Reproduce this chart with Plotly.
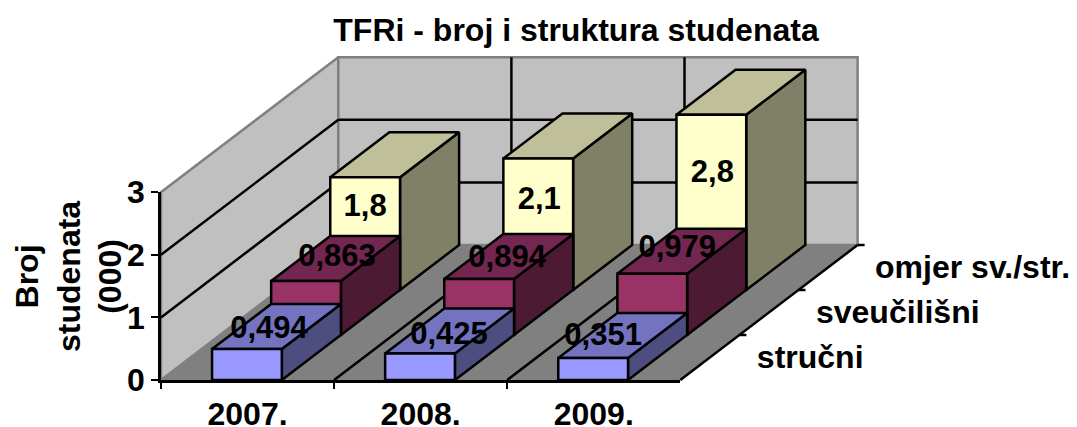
import plotly.graph_objects as go

categories = ["2007.", "2008.", "2009."]
rows = ["stručni", "sveučilišni", "omjer sv./str."]
strucni = [0.494, 0.425, 0.351]
sveucilisni = [0.863, 0.894, 0.979]
omjer = [1.8, 2.1, 2.8]
labels_strucni = ["0,494", "0,425", "0,351"]
labels_sveucilisni = ["0,863", "0,894", "0,979"]
labels_omjer = ["1,8", "2,1", "2,8"]
y_ticks = [0, 1, 2, 3]

W, H = 1077, 427
X0, Y0 = 161.0, 380.0
CAT_PX, VAL_PX = 173.1, 62.6
DX, DY = 59.1 / CAT_PX, 45.0 / VAL_PX
BAR_L, BAR_W = 0.295, 0.403
FONT = "Liberation Sans, Arial, sans-serif"
NC, NR, VMAX = 3, 3, 3


def proj(c, r, v):
    return c + r * DX, v + r * DY


def poly(pts, fill, line="black", lw=2.5):
    xs, ys = zip(*[proj(*p) for p in pts])
    return go.Scatter(x=list(xs) + [xs[0]], y=list(ys) + [ys[0]], mode="lines", fill="toself",
                      fillcolor=fill, line=dict(color=line, width=lw), hoverinfo="skip", showlegend=False)


def seg(a, b, color="black", lw=2.5):
    xs, ys = zip(proj(*a), proj(*b))
    return go.Scatter(x=list(xs), y=list(ys), mode="lines", line=dict(color=color, width=lw),
                      hoverinfo="skip", showlegend=False)


fig = go.Figure()
# walls and floor
fig.add_trace(poly([(0, 0, 0), (0, NR, 0), (0, NR, VMAX), (0, 0, VMAX)], "#C0C0C0", "#808080", 2.5))
fig.add_trace(poly([(0, NR, 0), (NC, NR, 0), (NC, NR, VMAX), (0, NR, VMAX)], "#C0C0C0", "#808080", 2.5))
fig.add_trace(poly([(0, 0, 0), (NC, 0, 0), (NC, NR, 0), (0, NR, 0)], "#808080", "#808080", 1))
# gridlines
for v in y_ticks[1:]:
    if v < VMAX:
        fig.add_trace(seg((0, 0, v), (0, NR, v)))
        fig.add_trace(seg((0, NR, v), (NC, NR, v)))
for c in range(1, NC):
    fig.add_trace(seg((c, 0, 0), (c, NR, 0)))
    fig.add_trace(seg((c, NR, 0), (c, NR, VMAX)))
fig.add_trace(seg((NC, 0, 0), (NC, NR, 0)))
for r in range(1, NR + 1):
    fig.add_trace(seg((NC, r, 0), (NC + 7 / CAT_PX, r, 0)))

series = [
    (2, omjer, "#FFFFCC", "#BFBF99", "#808066"),
    (1, sveucilisni, "#993366", "#732650", "#4D1A33"),
    (0, strucni, "#9999FF", "#7373BF", "#4D4D80"),
]
for r, vals, front, top, side in series:
    for i, v in enumerate(vals):
        a, b = i + BAR_L, i + BAR_L + BAR_W
        fig.add_trace(poly([(b, r, 0), (b, r + 1, 0), (b, r + 1, v), (b, r, v)], side))
        fig.add_trace(poly([(a, r, v), (b, r, v), (b, r + 1, v), (a, r + 1, v)], top))
        fig.add_trace(poly([(a, r, 0), (b, r, 0), (b, r, v), (a, r, v)], front))

# data labels, placed like the spreadsheet's: near each bar's top, nudged (px)
nudges = {
    0: [(22, 19), (29, 17), (10, 21)],
    1: [(31, 23), (28, 20), (25, 24)],
    2: [(0, -31), (1, -43), (1, -60)],
}
texts = {0: labels_strucni, 1: labels_sveucilisni, 2: labels_omjer}
vals_by_row = {0: strucni, 1: sveucilisni, 2: omjer}
for r in range(3):
    xs, ys = [], []
    for i, v in enumerate(vals_by_row[r]):
        x, y = proj(i + BAR_L + BAR_W / 2, r, v)
        xs.append(x + nudges[r][i][0] / CAT_PX)
        ys.append(y + nudges[r][i][1] / VAL_PX)
    fig.add_trace(go.Scatter(x=xs, y=ys, mode="text", text=texts[r], textposition="middle center",
                             textfont=dict(family=FONT, size=31, color="black", weight="bold"),
                             hoverinfo="skip", showlegend=False))

# depth-axis labels
xs, ys = [], []
for r in range(3):
    x, y = proj(NC, r + 0.5, 0)
    xs.append(x + 47 / CAT_PX)
    ys.append(y - 2 / VAL_PX)
fig.add_trace(go.Scatter(x=xs, y=ys, mode="text", text=rows, textposition="middle right",
                         textfont=dict(family=FONT, size=32, color="black", weight="bold"),
                         hoverinfo="skip", showlegend=False))

# real value/category axes, laid over the floor's front edge and the left wall
fig.add_trace(go.Scatter(x=categories, y=[0, 0, 0], mode="lines", line=dict(width=0),
                         xaxis="x2", yaxis="y2", hoverinfo="skip", showlegend=False))

axfont = dict(family=FONT, size=32, color="black", weight="bold")
fig.update_layout(
    template="none",
    width=W, height=H, autosize=False,
    margin=dict(l=0, r=0, t=0, b=0),
    paper_bgcolor="white", plot_bgcolor="rgba(0,0,0,0)",
    title=dict(text="TFRi - broj i struktura studenata", x=576 / W, xanchor="center", y=1 - 30 / H,
               yanchor="middle", font=dict(family=FONT, size=32, color="black", weight="bold")),
    xaxis=dict(visible=False, automargin=False, range=[-X0 / CAT_PX, (W - X0) / CAT_PX], domain=[0, 1]),
    yaxis=dict(visible=False, automargin=False, range=[-(H - Y0) / VAL_PX, Y0 / VAL_PX], domain=[0, 1]),
    xaxis2=dict(type="category", categoryarray=categories, categoryorder="array", automargin=False,
                domain=[X0 / W, (X0 + NC * CAT_PX) / W], anchor="y2", range=[-0.5, 2.5],
                tickson="boundaries", ticks="outside", ticklen=6, tickwidth=2, tickcolor="black",
                showline=True, linecolor="black", linewidth=3, showgrid=False,
                tickfont=axfont, ticklabelstandoff=4),
    yaxis2=dict(domain=[(H - Y0) / H, (H - Y0 + VMAX * VAL_PX) / H], anchor="x2", range=[0, VMAX],
                automargin=False, tickvals=y_ticks, ticks="outside", ticklen=7, tickwidth=2, tickcolor="black",
                showline=True, linecolor="black", linewidth=2.5, showgrid=False, zeroline=False,
                tickfont=axfont),
    annotations=[dict(text="Broj<br>studenata<br>(000)", xref="paper", yref="paper", x=68 / W, y=1 - 277 / H,
                      xanchor="center", yanchor="middle", align="center", textangle=-90, showarrow=False,
                      font=dict(family=FONT, size=32, color="black", weight="bold"))],
)
fig.write_html("out.html", config={"displayModeBar": False},
               post_script="document.body.style.margin='0';document.body.style.overflow='hidden';")
